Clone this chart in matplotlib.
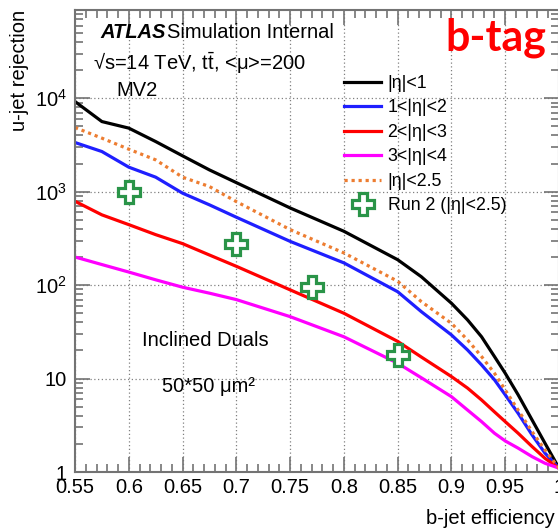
import numpy as np
import matplotlib
matplotlib.use('Agg')
import matplotlib.pyplot as plt
from matplotlib.ticker import MultipleLocator, FixedLocator, LogLocator, NullFormatter

plt.rcParams['font.family'] = ['Liberation Sans', 'DejaVu Sans']
plt.rcParams['mathtext.fontset'] = 'custom'
plt.rcParams['mathtext.rm'] = 'Liberation Sans'
plt.rcParams['mathtext.it'] = 'Liberation Sans:italic'
plt.rcParams['mathtext.bf'] = 'Liberation Sans:bold'

# b-jet efficiency working points and light-jet rejection per eta region
eff = [0.55, 0.575, 0.6, 0.625, 0.65, 0.675, 0.7, 0.75, 0.8, 0.85, 0.872,
       0.9, 0.915, 0.928, 0.94, 0.95, 0.962, 0.975, 0.987, 1.0]
rej_eta_0_1 = [9220, 5630, 4790, 3440, 2420, 1710, 1250, 670, 377, 187, 123,
               64, 42.4, 28, 17.2, 11.4, 6.7, 3.6, 2.03, 1.1]
rej_eta_1_2 = [3360, 2690, 1830, 1430, 964, 723, 533, 294, 173, 85, 52,
               29.3, 20.2, 14, 9.7, 6.7, 4.25, 2.49, 1.59, 1.1]
rej_eta_2_3 = [790, 565, 444, 347, 278, 210, 159, 89, 50, 25, 17,
               10.5, 7.9, 5.9, 4.4, 3.46, 2.6, 1.87, 1.4, 1.1]
rej_eta_3_4 = [200, 166, 138, 114, 95, 82, 70, 46, 28, 14.6, 10.2,
               6.4, 4.6, 3.46, 2.6, 2.15, 1.8, 1.46, 1.24, 1.1]
rej_eta_25 = [4860, 3740, 2850, 2190, 1430, 1135, 783, 393, 221, 110, 66.6,
              39, 25.9, 17.2, 11.4, 7.55, 4.6, 2.7, 1.72, 1.1]

# Run 2 reference points
run2_eff = [0.6, 0.7, 0.77, 0.85]
run2_rej = [1000, 277, 95, 18]

labels = ['|η|<1', '1<|η|<2', '2<|η|<3', '3<|η|<4', '|η|<2.5', 'Run 2 (|η|<2.5)']

xticks = [0.55, 0.6, 0.65, 0.7, 0.75, 0.8, 0.85, 0.9, 0.95, 1.0]
xticklabels = ['0.55', '0.6', '0.65', '0.7', '0.75', '0.8', '0.85', '0.9', '0.95', '1']
yticks = [1, 10, 100, 1000, 10000]
yticklabels = ['1', '10', '$10^2$', '$10^3$', '$10^4$']

W, H = 558, 532
fig = plt.figure(figsize=(W / 100, H / 100), dpi=100)
ax = fig.add_axes([75 / W, 60 / H, 484 / W, 462 / H])

lw = 2.3
ax.plot(eff, rej_eta_0_1, color='black', lw=lw, label=labels[0])
ax.plot(eff, rej_eta_1_2, color='#1f1fff', lw=lw, label=labels[1])
ax.plot(eff, rej_eta_2_3, color='#ff0000', lw=lw, label=labels[2])
ax.plot(eff, rej_eta_3_4, color='#ff00ff', lw=lw, label=labels[3])
ax.plot(eff, rej_eta_25, color='#ed7d31', lw=lw, ls=(0, (1, 1.2)), label=labels[4])
ax.plot(run2_eff, run2_rej, ls='none', marker='P', ms=16, mfc='white',
        mec='#2a9448', mew=2.3, label=labels[5])

ax.set_yscale('log')
ax.set_xlim(0.55, 1.0)
ax.set_ylim(1, 8.8e4)

ax.xaxis.set_major_locator(FixedLocator(xticks))
ax.set_xticklabels(xticklabels)
ax.xaxis.set_minor_locator(MultipleLocator(0.01))
ax.yaxis.set_major_locator(FixedLocator(yticks))
ax.set_yticklabels(yticklabels)
ax.yaxis.set_minor_locator(LogLocator(base=10, subs=np.arange(2, 10)))
ax.yaxis.set_minor_formatter(NullFormatter())

ax.tick_params(which='both', direction='in', top=True, right=True, color='0.45', width=1.2)
ax.tick_params(which='major', length=11, labelsize=14.5)
ax.tick_params(which='minor', length=6)
ax.tick_params(axis='x', which='major', pad=4)
ax.tick_params(axis='y', which='major', pad=6)
for sp in ax.spines.values():
    sp.set_color('0.45')
    sp.set_linewidth(1.5)

ax.grid(which='major', ls=(0, (1, 2)), color='0.5', lw=0.9)

# axis titles, ROOT style (flush with the frame ends)
fig.text(555 / W, 1 - 518 / H, 'b-jet efficiency', fontsize=14.5, ha='right', va='center')
fig.text(20 / W, 1 - 10 / H, 'u-jet rejection', fontsize=14.5, rotation=90,
         ha='center', va='top')

leg = ax.legend(loc='upper left', bbox_to_anchor=(269 / 484, 1 - 65 / 462),
                frameon=False, fontsize=12.8, handlelength=2.1, handletextpad=0.35,
                labelspacing=0.42, borderpad=0, borderaxespad=0)

# header texts
fig.text(100 / W, 1 - 32 / H, 'ATLAS', fontsize=14.5, fontweight='bold',
         fontstyle='italic', va='center', ha='left')
fig.text(167 / W, 1 - 32 / H, 'Simulation Internal', fontsize=14.5, va='center', ha='left')
fig.text(93 / W, 1 - 63 / H, r'√s=14 TeV, t$\bar{\rm t}$, <μ>=200',
         fontsize=14.5, va='center', ha='left')
fig.text(116 / W, 1 - 91 / H, 'MV2', fontsize=14.5, va='center', ha='left')
fig.text(142 / W, 1 - 340 / H, 'Inclined Duals', fontsize=14.5, va='center', ha='left')
fig.text(162 / W, 1 - 386 / H, '50*50 μm²', fontsize=14.5, va='center', ha='left')
fig.text(546 / W, 1 - 38 / H, 'b-tag', fontsize=31, fontweight='bold', color='#ff0000',
         family=['Lato', 'DejaVu Sans'], va='center', ha='right')

fig.savefig('out.png', dpi=100)
